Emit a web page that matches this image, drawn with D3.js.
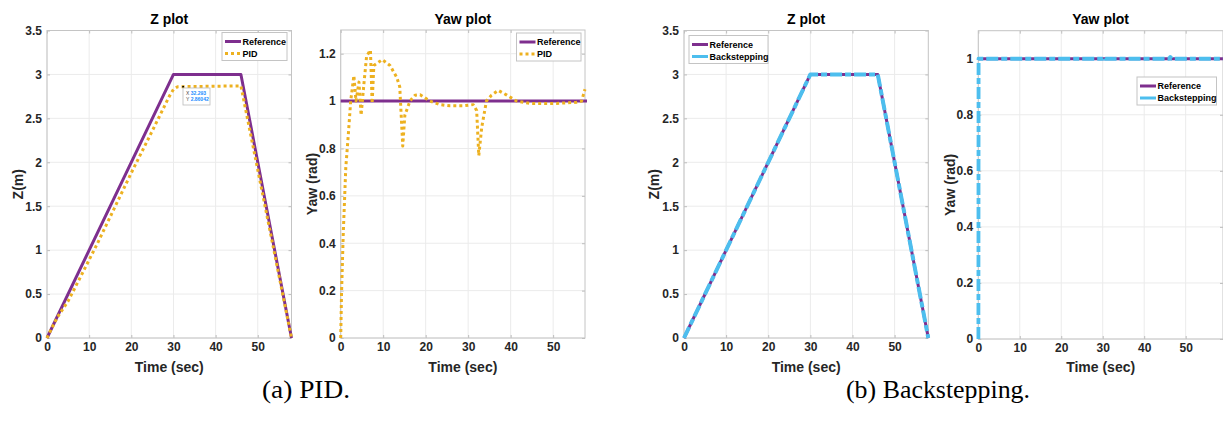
<!DOCTYPE html>
<html>
<head>
<meta charset="utf-8">
<script src="https://cdn.jsdelivr.net/npm/d3@7"></script>
<style>
  body { margin: 0; background: #fff; }
  svg { display: block; }
  .tick-label { font-family: "Liberation Sans", Arial, sans-serif; font-weight: bold; font-size: 12px; fill: #262626; }
  .ax-label { font-family: "Liberation Sans", Arial, sans-serif; font-weight: bold; font-size: 14px; fill: #262626; }
  .title { font-family: "Liberation Sans", Arial, sans-serif; font-weight: bold; font-size: 14px; fill: #000; }
  .legend { font-family: "Liberation Sans", Arial, sans-serif; font-weight: bold; font-size: 9px; fill: #000; }
  .caption { font-family: "Liberation Serif", "DejaVu Serif", serif; font-size: 25px; fill: #000; }
</style>
</head>
<body>
<div id="chart"></div>
<script>
var W = 1223, H = 424;

// reference trajectory for Z
var zRefT = [0, 30, 46, 58];
var zRefV = [0, 3, 3, 0];

// PID response for Z
var zPidT = [0, 1, 2.5, 5, 8, 12, 20, 25, 29, 30, 31, 46, 58];
var zPidV = [0, 0.1, 0.24, 0.42, 0.7, 1.08, 1.88, 2.36, 2.75, 2.83, 2.86, 2.87, 0];

// backstepping response for Z
var zBsT = [0, 30, 46, 58];
var zBsV = [0, 3, 3, 0];

// yaw reference
var yawRefT = [0, 59];
var yawRefV = [1, 1];

// PID response for yaw
var yawPidT = [0, 0.2, 0.6, 1.2, 1.8, 2.35, 3.1, 3.6, 4.3, 4.8, 5.5, 6.1, 7.0, 7.4, 7.8, 8.6, 9.8,
  11.6, 13.2, 13.9, 14.6, 15.1, 16.3, 17.5, 18.7, 21, 23.4, 25.7, 28.9, 31.2, 32, 32.5, 33.2,
  34.3, 35.5, 37.1, 39.1, 41.4, 44.5, 47.7, 50.8, 55.5, 56.7, 57.5];
var yawPidV = [0, 0.19, 0.44, 0.72, 0.86, 1.0, 1.107, 1.0, 1.08, 0.94, 1.08, 1.19, 1.215, 0.99, 1.15, 1.16, 1.175,
  1.15, 1.1, 1.06, 0.81, 0.94, 1.0, 1.025, 1.027, 1.0, 0.985, 0.98, 0.98, 0.985, 0.96, 0.77, 0.89,
  1.0, 1.025, 1.045, 1.025, 1.0, 0.99, 0.99, 0.99, 0.995, 1.0, 1.05];

// backstepping response for yaw
var yawBsT = [0, 0.05, 30, 30.3, 30.6, 46, 46.3, 46.6, 59];
var yawBsV = [0, 1, 1, 1.006, 1, 1, 1.006, 1, 1];

var xTicks = [0, 10, 20, 30, 40, 50];
var zTicks = [0, 0.5, 1, 1.5, 2, 2.5, 3, 3.5];
var yawPidTicks = [0, 0.2, 0.4, 0.6, 0.8, 1, 1.2];
var yawBsTicks = [0, 0.2, 0.4, 0.6, 0.8, 1];

var purple = "#7E2F8E", yellow = "#EDB120", blue = "#4DBEEE";

var svg = d3.select("#chart").append("svg")
    .attr("width", W)
    .attr("height", H);

function zip(t, v) {
    return t.map(function(d, i) { return [d, v[i]]; });
}

var clipCount = 0;

function panel(opt) {
    var x = d3.scaleLinear().domain([0, opt.xmax]).range([opt.left, opt.right]);
    var y = d3.scaleLinear().domain([0, opt.ymax]).range([opt.bottom, opt.top]);
    var g = svg.append("g");

    // grid
    g.selectAll(".gx").data(xTicks).enter().append("line")
        .attr("x1", function(d) { return x(d); }).attr("x2", function(d) { return x(d); })
        .attr("y1", opt.top).attr("y2", opt.bottom)
        .attr("stroke", "#ebebeb").attr("stroke-width", 1);
    g.selectAll(".gy").data(opt.yTicks).enter().append("line")
        .attr("y1", function(d) { return y(d); }).attr("y2", function(d) { return y(d); })
        .attr("x1", opt.left).attr("x2", opt.right)
        .attr("stroke", "#ebebeb").attr("stroke-width", 1);

    // axes with inward ticks on every side
    var axB = d3.axisBottom(x).tickValues(xTicks).tickSizeInner(-3).tickSizeOuter(0).tickFormat(d3.format("d"));
    var axT = d3.axisTop(x).tickValues(xTicks).tickSizeInner(-3).tickSizeOuter(0).tickFormat("");
    var axL = d3.axisLeft(y).tickValues(opt.yTicks).tickSizeInner(-3).tickSizeOuter(0).tickFormat(d3.format("~g"));
    var axR = d3.axisRight(y).tickValues(opt.yTicks).tickSizeInner(-3).tickSizeOuter(0).tickFormat("");

    var bottomAx, leftAx;
    [[axB, "translate(0," + opt.bottom + ")"], [axT, "translate(0," + opt.top + ")"],
     [axL, "translate(" + opt.left + ",0)"], [axR, "translate(" + opt.right + ",0)"]].forEach(function(a, i) {
        var s = g.append("g").attr("transform", a[1]).call(a[0]);
        s.select(".domain").remove();
        s.selectAll("line").attr("stroke", "#bdbdbd");
        s.selectAll("text").attr("class", "tick-label").attr("font-size", null).attr("font-family", null);
        if (i === 0) bottomAx = s;
        if (i === 2) leftAx = s;
    });
    bottomAx.selectAll("text").attr("y", 4).attr("dy", "0.71em");
    leftAx.selectAll("text").attr("x", -5);

    g.append("rect")
        .attr("x", opt.left).attr("y", opt.top)
        .attr("width", opt.right - opt.left).attr("height", opt.bottom - opt.top)
        .attr("fill", "none").attr("stroke", "#c4c4c4").attr("stroke-width", 1);

    // lines
    var id = "clip" + (clipCount++);
    svg.append("clipPath").attr("id", id).append("rect")
        .attr("x", opt.left - 2).attr("y", opt.top).attr("width", opt.right - opt.left + 4).attr("height", opt.bottom - opt.top + 2);
    var line = d3.line().x(function(d) { return x(d[0]); }).y(function(d) { return y(d[1]); });
    var lg = g.append("g").attr("clip-path", "url(#" + id + ")");
    opt.series.forEach(function(s) {
        lg.append("path")
            .datum(zip(s.t, s.v))
            .attr("d", line)
            .attr("fill", "none")
            .attr("stroke", s.color)
            .attr("stroke-width", s.width)
            .attr("stroke-dasharray", s.dash || null)
            .attr("stroke-linejoin", "round");
    });

    // labels
    g.append("text").attr("class", "title")
        .attr("x", (opt.left + opt.right) / 2).attr("y", 24)
        .attr("text-anchor", "middle").text(opt.title);
    g.append("text").attr("class", "ax-label")
        .attr("x", (opt.left + opt.right) / 2).attr("y", 372)
        .attr("text-anchor", "middle").text("Time (sec)");
    g.append("text").attr("class", "ax-label")
        .attr("transform", "translate(" + opt.ylabX + "," + ((opt.top + opt.bottom) / 2) + ") rotate(-90)")
        .attr("text-anchor", "middle").attr("dy", "0.35em").text(opt.ylabel);

    // legend
    var L = opt.legend;
    var lgd = g.append("g").attr("transform", "translate(" + L.x + "," + L.y + ")");
    lgd.append("rect").attr("width", L.w).attr("height", 28)
        .attr("fill", "#fff").attr("stroke", "#c4c4c4").attr("stroke-width", 1);
    L.items.forEach(function(it, i) {
        var yy = 9 + i * 12;
        lgd.append("line").attr("x1", 3).attr("x2", 19).attr("y1", yy).attr("y2", yy)
            .attr("stroke", it.color).attr("stroke-width", it.width)
            .attr("stroke-dasharray", it.dash || null);
        lgd.append("text").attr("class", "legend").attr("x", 20.5).attr("y", yy).attr("dy", "0.35em").text(it.name);
    });

    return { x: x, y: y, g: g };
}

var p1 = panel({
    left: 47, right: 291.5, top: 30.5, bottom: 338, xmax: 58, ymax: 3.5, yTicks: zTicks,
    title: "Z plot", ylabel: "Z(m)", ylabX: 18,
    series: [
        { t: zRefT, v: zRefV, color: purple, width: 3 },
        { t: zPidT, v: zPidV, color: yellow, width: 3, dash: "3,3" }
    ],
    legend: { x: 222, y: 32.5, w: 65, items: [
        { name: "Reference", color: purple, width: 3 },
        { name: "PID", color: yellow, width: 3, dash: "3,3" }
    ] }
});

// data tip
var tipX = 32.293, tipY = 2.86042;
p1.g.append("circle").attr("cx", p1.x(tipX)).attr("cy", p1.y(tipY)).attr("r", 1).attr("fill", "#000");
var tip = p1.g.append("g").attr("transform", "translate(183,88)");
tip.append("rect").attr("width", 27).attr("height", 17).attr("fill", "#fff").attr("stroke", "#bbb").attr("stroke-width", 0.8);
[["X ", "32.293"], ["Y ", "2.86042"]].forEach(function(r, i) {
    var t = tip.append("text").attr("x", 3).attr("y", 7 + i * 6)
        .attr("font-family", "Liberation Sans, Arial, sans-serif").attr("font-size", "5px");
    t.append("tspan").attr("fill", "#444").text(r[0]);
    t.append("tspan").attr("fill", "#1a8cff").attr("font-weight", "bold").text(r[1]);
});

panel({
    left: 340.7, right: 585, top: 30, bottom: 338, xmax: 57.5, ymax: 1.3, yTicks: yawPidTicks,
    title: "Yaw plot", ylabel: "Yaw (rad)", ylabX: 312,
    series: [
        { t: yawRefT, v: yawRefV, color: purple, width: 3 },
        { t: yawPidT, v: yawPidV, color: yellow, width: 3, dash: "3,3" }
    ],
    legend: { x: 516.5, y: 33, w: 64.5, items: [
        { name: "Reference", color: purple, width: 3 },
        { name: "PID", color: yellow, width: 3, dash: "3,3" }
    ] }
});

panel({
    left: 684, right: 928.3, top: 30.5, bottom: 338, xmax: 58, ymax: 3.5, yTicks: zTicks,
    title: "Z plot", ylabel: "Z(m)", ylabX: 654,
    series: [
        { t: zRefT, v: zRefV, color: purple, width: 3 },
        { t: zBsT, v: zBsV, color: blue, width: 4, dash: "12,3,6,3" }
    ],
    legend: { x: 689, y: 35.5, w: 79, items: [
        { name: "Reference", color: purple, width: 3 },
        { name: "Backstepping", color: blue, width: 3 }
    ] }
});

panel({
    left: 978.3, right: 1223, top: 30.7, bottom: 339, xmax: 59, ymax: 1.1, yTicks: yawBsTicks,
    title: "Yaw plot", ylabel: "Yaw (rad)", ylabX: 950,
    series: [
        { t: yawRefT, v: yawRefV, color: purple, width: 3 },
        { t: yawBsT, v: yawBsV, color: blue, width: 4, dash: "12,3,6,3" }
    ],
    legend: { x: 1137, y: 77, w: 79.5, items: [
        { name: "Reference", color: purple, width: 3 },
        { name: "Backstepping", color: blue, width: 3 }
    ] }
});

// sub-captions
svg.append("text").attr("class", "caption").attr("x", 306).attr("y", 398).attr("text-anchor", "middle")
    .attr("textLength", 88).attr("lengthAdjust", "spacingAndGlyphs").text("(a) PID.");
svg.append("text").attr("class", "caption").attr("x", 938).attr("y", 398).attr("text-anchor", "middle")
    .attr("textLength", 184).attr("lengthAdjust", "spacingAndGlyphs").text("(b) Backstepping.");
</script>
</body>
</html>
